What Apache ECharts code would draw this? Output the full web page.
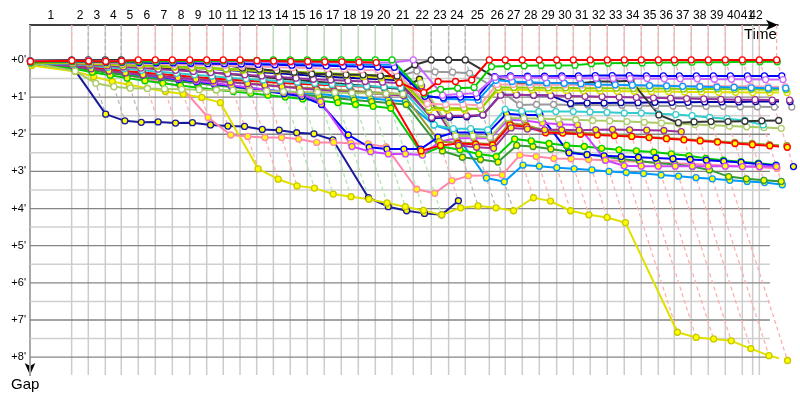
<!DOCTYPE html>
<html>
<head>
<meta charset="utf-8">
<title>Gap chart</title>
<script src="https://cdn.jsdelivr.net/npm/echarts@6/dist/echarts.min.js"></script>
<style>
  html, body { margin: 0; padding: 0; background: #fff; }
  #chart { width: 800px; height: 400px; }
</style>
</head>
<body>
<div id="chart"></div>
<script>
// leader's race time (minutes) at the end of each lap, lap 0 = start
const leaderTimes = [0, 3.50, 4.90, 6.33, 7.67, 9.10, 10.53, 11.96, 13.42, 14.85, 16.24, 17.65, 19.05, 20.45, 21.87, 23.30, 24.73, 26.16, 27.59, 29.02, 30.42, 32.21, 33.72, 35.18, 36.58, 38.60, 39.94, 41.37, 42.80, 44.26, 45.66, 47.08, 48.51, 49.94, 51.37, 52.80, 54.14, 55.57, 57.00, 58.43, 59.86, 61.29, 62.75];

// vertical grid lines (includes the extra line before the last one)
const gridTimes = [0, 3.50, 4.90, 6.33, 7.67, 9.10, 10.53, 11.96, 13.42, 14.85, 16.24, 17.65, 19.05, 20.45, 21.87, 23.30, 24.73, 26.16, 27.59, 29.02, 30.42, 32.21, 33.72, 35.18, 36.58, 38.60, 39.94, 41.37, 42.80, 44.26, 45.66, 47.08, 48.51, 49.94, 51.37, 52.80, 54.14, 55.57, 57.00, 58.43, 59.86, 60.73, 61.29];

const lapLabels = ['1','2','3','4','5','6','7','8','9','10','11','12','13','14','15','16','17','18','19','20','21','22','23','24','25','26','27','28','29','30','31','32','33','34','35','36','37','38','39','40','41','42'];

// status of each lap (1..42) for the dashed lap lines: r = racing, y = neutral, g = green
const lapFlags = ['r','y','y','y','r','r','r','r','r','r','r','r','g','g','g','g','g','g','g','g','r','y','y','y','r','r','r','r','r','r','r','r','r','r','r','r','r','r','r','r','r','r'];

const gapTicks = [0, 1, 2, 3, 4, 5, 6, 7, 8];
const halfTicks = [0.5, 1.5, 2.5, 3.5, 4.5, 5.5, 6.5, 7.5];

// gap to leader (minutes) per lap, lap 0 first
const redGaps = [0.04,0.02,0.03,0.04,0.03,0,0,0,0,0,0,0,0.02,0.03,0.04,0.04,0.05,0.05,0.06,0.07,0.62,0.88,0.58,0.58,0.54,0,0,0,0,0,0,0,0,0,0,0,0,0,0,0,0,0,0];
const greenGaps = [0.06,0.04,0.04,0.05,0.05,0.04,0.04,0.03,0.03,0.03,0.02,0.02,0.01,0,0,0,0,0,0,0,0,0.92,0.79,0.76,0.74,0.18,0.17,0.16,0.15,0.15,0.14,0.10,0.09,0.08,0.08,0.07,0.07,0.06,0.06,0.06,0.05,0.05,0.05];
const violetGaps = [0.03,0.02,0.02,0.03,0.03,0.03,0.04,0.04,0.04,0.05,0.05,0.05,0.05,0.06,0.06,0.06,0.06,0.07,0.07,0.07,0.07,0,0.95,0.92,0.90,0.47,0.46,0.47,0.48,0.48,0.49,0.49,0.50,0.50,0.50,0.51,0.51,0.51,0.52,0.52,0.52,0.53,0.53];
const blueGaps = [0.05,0.04,0.05,0.06,0.06,0.07,0.08,0.08,0.09,0.10,0.10,0.11,0.12,0.13,0.14,0.15,0.16,0.17,0.18,0.19,0.20,0.98,1.02,1.00,1.00,0.45,0.43,0.44,0.44,0.43,0.43,0.42,0.42,0.42,0.43,0.43,0.43,0.43,0.43,0.43,0.43,0.43,0.43];
const skyGaps = [0.04,0.03,0.04,0.05,0.06,0.06,0.07,0.07,0.08,0.08,0.09,0.09,0.10,0.10,0.11,0.11,0.12,0.12,0.12,0.13,0.13,0.95,1.05,1.06,1.08,0.55,0.58,0.60,0.62,0.63,0.64,0.66,0.67,0.68,0.69,0.70,0.71,0.72,0.73,0.74,0.75,0.76,0.76];
const pinkGaps = [0.05,0.06,0.07,0.08,0.09,0.10,0.11,0.12,0.13,0.14,0.15,0.17,0.18,0.20,0.21,0.22,0.24,0.25,0.27,0.28,0.30,1.18,1.20,1.20,1.22,0.66,0.66,0.67,0.67,0.67,0.68,0.68,0.68,0.69,0.69,0.69,0.70,0.70,0.70,0.71,0.71,0.72,0.72];
const blackGaps = [0.05,0.05,0.05,0.06,0.06,0.07,0.07,0.08,0.09,0.11,0.13,0.22,0.25,0.29,0.33,0.38,0.38,0.40,0.40,0.43,0.43,0.13,0,0,0,0.47,0.61,0.65,0.63,0.63,0.63,0.58,0.58,0.56,1.48,1.69,1.67,1.66,1.66,1.65,1.64,1.63];
const limeGaps = [0.07,0.08,0.09,0.10,0.12,0.14,0.16,0.18,0.20,0.22,0.24,0.26,0.28,0.30,0.32,0.34,0.36,0.38,0.40,0.42,0.45,1.28,1.30,1.30,1.32,0.74,0.74,0.75,0.75,0.75,0.76,0.76,0.76,0.77,0.77,0.77,0.78,0.78,0.78,0.79,0.79,0.80,0.80];
const yellowGaps = [0.06,0.08,0.10,0.12,0.14,0.16,0.18,0.20,0.22,0.24,0.26,0.28,0.30,0.32,0.34,0.37,0.40,0.42,0.45,0.48,0.50,1.35,1.35,1.35,1.30,0.80,0.80,0.81,0.82,0.82,0.83,0.83,0.84,0.84,0.85,0.85,0.86,0.86,0.87,0.87,0.88,0.88,0.88];
const purpleGaps = [0.07,0.10,0.13,0.16,0.19,0.22,0.25,0.28,0.31,0.34,0.37,0.40,0.43,0.46,0.49,0.52,0.54,0.56,0.58,0.60,0.62,1.55,1.50,1.50,1.48,0.95,0.94,0.95,0.96,0.97,0.98,0.99,1.00,1.01,1.02,1.03,1.04,1.05,1.06,1.07,1.07,1.08,1.08];
const darkBlueGaps = [0.06,0.08,0.10,0.12,0.14,0.16,0.18,0.20,0.22,0.24,0.27,0.30,0.33,0.36,0.39,0.42,0.45,0.48,0.50,0.52,0.55,1.57,1.54,1.53,1.48,0.94,0.94,0.95,0.96,1.17,1.16,1.16,1.15,1.15,1.14,1.14,1.14,1.13,1.13,1.13,1.12,1.12,1.12];
const grayGaps = [0.05,0.07,0.09,0.11,0.13,0.15,0.17,0.19,0.21,0.23,0.25,0.27,0.29,0.31,0.33,0.35,0.37,0.39,0.41,0.43,0.45,0.30,0.32,0.33,0.36,0.80,1.21,1.20,1.20,1.21,1.21,1.22,1.22,1.23,1.23,1.24,1.24,1.25,1.25,1.26,1.26,1.27,1.27];
const cyanGaps = [0.08,0.12,0.16,0.20,0.24,0.28,0.32,0.36,0.40,0.44,0.48,0.51,0.54,0.57,0.60,0.63,0.66,0.69,0.71,0.73,0.75,1.75,1.85,1.85,1.88,1.33,1.38,1.39,1.39,1.39,1.40,1.41,1.43,1.43,1.45,1.47,1.50,1.55,1.58,1.63,1.75];
const oliveGaps = [0.08,0.30,0.63,0.72,0.76,0.77,0.78,0.79,0.80,0.81,0.82,0.83,0.84,0.85,0.86,0.87,0.88,0.89,0.90,0.91,0.92,0.62,2.05,2.05,2.08,1.56,1.57,1.58,1.60,1.61,1.63,1.64,1.66,1.68,1.70,1.72,1.74,1.76,1.78,1.80,1.82,1.84];

// second class (yellow markers)
const blackBGaps = [0.02,0,0,0,0,0.14,0.20,0.25,0.30,0.34,0.38,0.42,0.46,0.50,0.54,0.58,0.62,0.66,0.70,0.74,0.78,0.52];
const redBGaps = [0.06,0.15,0.20,0.25,0.30,0.34,0.38,0.42,0.46,0.50,0.53,0.56,0.59,0.62,0.64,0.66,0.68,0.70,0.72,0.75,2.45,2.30,2.25,2.27,2.29,1.75,1.80,1.96,1.97,2.00,2.02,2.04,2.06,2.09,2.12,2.15,2.18,2.21,2.25,2.28,2.31,2.35];
const purpleBGaps = [0.07,0.18,0.24,0.30,0.35,0.40,0.44,0.48,0.52,0.56,0.60,0.64,0.68,0.72,0.76,0.80,0.84,0.87,0.90,0.93,0.96,0.70,2.30,2.35,2.38,1.83,1.86,1.88,1.88,1.89,1.88,1.87,1.88,1.89,1.90,1.93];
const greenBGaps = [0.08,0.24,0.33,0.41,0.49,0.56,0.63,0.69,0.75,0.80,0.85,0.90,0.95,1.00,1.05,1.10,1.15,1.20,1.25,1.30,2.55,2.33,2.42,2.53,2.60,2.13,2.18,2.25,2.30,2.33,2.38,2.42,2.45,2.48,2.53,2.58,2.65,2.70,2.74,2.78,2.83];
const darkGreenBGaps = [0.07,0.20,0.28,0.35,0.41,0.47,0.53,0.58,0.63,0.68,0.73,0.78,0.83,0.88,0.93,0.98,1.03,1.08,1.12,1.16,1.20,2.45,2.62,2.68,2.75,2.30,2.33,2.40,2.47,2.54,2.60,2.67,2.72,2.78,2.81,2.87,2.96,3.14,3.20,3.24,3.27];
const skyBGaps = [0.06,0.20,0.27,0.33,0.39,0.45,0.50,0.55,0.60,0.65,0.70,0.75,0.80,0.84,0.88,0.92,0.96,1.00,1.04,1.08,1.12,1.75,1.93,3.18,3.28,2.83,2.86,2.90,2.93,2.96,3.00,3.03,3.06,3.10,3.13,3.17,3.20,3.24,3.27,3.30,3.36];
const pinkBGaps = [0.05,0.18,0.26,0.33,0.40,0.50,0.60,0.72,1.55,2.02,2.06,2.09,2.09,2.13,2.22,2.22,2.24,2.26,2.34,3.48,3.59,3.25,3.12,3.11,3.10,2.56,2.60,2.65,2.66,2.68,2.70,2.72,2.74,2.76,2.78,2.80,2.82,2.84,2.86,2.89,2.92];
const violetBGaps = [0.04,0.15,0.21,0.27,0.33,0.39,0.45,0.50,0.56,0.62,0.68,0.74,0.80,0.86,0.92,1.12,2.33,2.47,2.53,2.53,2.56,2.20,2.11,2.11,2.11,1.61,1.63,1.70,1.73,1.75,2.70,2.85,2.86,2.86,2.86,2.86,2.86,2.86,2.87,2.87,2.87];
const blueBGaps = [0.05,0.16,0.22,0.28,0.34,0.40,0.46,0.52,0.58,0.64,0.70,0.77,0.84,0.91,0.98,1.20,2.02,2.35,2.40,2.40,2.40,2.08,1.95,1.95,1.95,1.45,1.48,1.48,2.50,2.55,2.58,2.60,2.62,2.64,2.66,2.68,2.70,2.73,2.76,2.80,2.84,2.87];
const yellowBGaps = [0.15,0.31,0.45,0.58,0.67,0.76,0.85,0.92,1.01,1.15,2.93,3.21,3.39,3.45,3.61,3.68,3.75,3.85,3.95,4.05,4.17,3.98,3.93,3.98,4.06,3.71,3.80,4.06,4.17,4.24,4.38,7.33,7.47,7.51,7.56,7.77,7.96,8.09];
const navyBGaps = [0.10,0.28,1.46,1.64,1.68,1.67,1.70,1.69,1.75,1.78,1.79,1.87,1.89,1.96,1.99,2.15,3.71,3.95,4.06,4.13,4.17,3.79];
const oliveBGaps = [0.07,0.17,0.23,0.29,0.34,0.39,0.43,0.47,0.51,0.55,0.59,0.63,0.67,0.71,0.74,0.77,0.80,0.83,0.86,0.89,0.92,2.20,2.22,2.24,2.26,1.70,1.76,1.90,1.93,1.96,1.99,2.02,2.05,2.08,2.10,2.13,2.16,2.19,2.22,2.25,2.28,2.31];

const WHITE = '#ffffff';
const YELLOW = '#ffff00';

// drawing order: second class first, first class on top
const cars = [
  { gaps: navyBGaps, color: '#1a1a9c', fill: YELLOW },
  { gaps: yellowBGaps, color: '#e0e000', border: '#c8c800', fill: YELLOW },
  { gaps: pinkBGaps, color: '#ff88aa', fill: YELLOW },
  { gaps: skyBGaps, color: '#0099ff', fill: YELLOW },
  { gaps: darkGreenBGaps, color: '#339933', fill: YELLOW },
  { gaps: greenBGaps, color: '#00cc00', fill: YELLOW },
  { gaps: blueBGaps, color: '#0000ff', fill: YELLOW },
  { gaps: violetBGaps, color: '#cc44ff', fill: YELLOW },
  { gaps: oliveBGaps, color: '#999933', fill: YELLOW },
  { gaps: redBGaps, color: '#ff0000', fill: YELLOW },
  { gaps: purpleBGaps, color: '#993399', fill: YELLOW },
  { gaps: blackBGaps, color: '#333333', fill: YELLOW },
  { gaps: oliveGaps, color: '#aacc66', fill: WHITE },
  { gaps: cyanGaps, color: '#33cccc', fill: WHITE },
  { gaps: grayGaps, color: '#999999', fill: WHITE },
  { gaps: darkBlueGaps, color: '#0000aa', fill: WHITE },
  { gaps: purpleGaps, color: '#993399', fill: WHITE },
  { gaps: yellowGaps, color: '#dddd00', fill: WHITE },
  { gaps: limeGaps, color: '#88cc00', fill: WHITE },
  { gaps: blackGaps, color: '#333333', fill: WHITE },
  { gaps: pinkGaps, color: '#ffa0b4', fill: WHITE },
  { gaps: skyGaps, color: '#0099ff', fill: WHITE },
  { gaps: blueGaps, color: '#0000ff', fill: WHITE },
  { gaps: violetGaps, color: '#cc66ff', fill: WHITE },
  { gaps: greenGaps, color: '#00cc00', fill: WHITE },
  { gaps: redGaps, color: '#ff0000', fill: WHITE }
];

const X_MAX = 62.86;
const Y_MIN = -0.94;
const Y_MAX = 8.48;
const H_END = 62.18;
const flagColors = { r: '#ffb0b0', y: '#b8b8b8', g: '#b0e6b0' };

const labelPos = lapLabels.map((_, i) => (gridTimes[i] + gridTimes[i + 1]) / 2);
// an empty label at the axis end keeps echarts from dropping "41"/"42" as min/max overlap
const labelValues = labelPos.concat([X_MAX]);

// background grid
const gridData = [];
halfTicks.forEach(v => gridData.push({ coords: [[0, v], [H_END, v]], lineStyle: { color: '#d0d0d0', width: 1.5 } }));
gridTimes.forEach(t => gridData.push({ coords: [[t, Y_MIN], [t, Y_MAX]], lineStyle: { color: '#cccccc', width: 1.5 } }));
gapTicks.forEach(v => gridData.push({ coords: [[0, v], [H_END, v]], lineStyle: { color: '#858585', width: 1.3 } }));

// dashed lap lines: where every car crossed the line on that lap
const dashData = lapFlags.map((f, i) => {
  const k = i + 1;
  let gmax = 0;
  cars.forEach(c => { if (c.gaps.length > k && c.gaps[k] > gmax) gmax = c.gaps[k]; });
  const t = leaderTimes[k];
  return {
    coords: [[t, Y_MIN], [t, 0], [t + gmax, gmax]],
    lineStyle: { color: flagColors[f], width: 1.3, type: [4, 3] }
  };
});

const series = [
  {
    type: 'lines', coordinateSystem: 'cartesian2d', polyline: true, silent: true,
    clip: false, z: 1, lineStyle: { opacity: 1 }, data: gridData
  },
  {
    type: 'lines', coordinateSystem: 'cartesian2d', polyline: true, silent: true,
    clip: false, z: 2, lineStyle: { opacity: 1 }, data: dashData
  }
];

cars.forEach(c => {
  series.push({
    type: 'line',
    data: c.gaps.map((g, k) => [leaderTimes[k] + g, g]),
    symbol: 'circle',
    symbolSize: 6,
    clip: false,
    z: 3,
    silent: true,
    lineStyle: { color: c.color, width: 2 },
    itemStyle: { color: c.fill, borderColor: c.border || c.color, borderWidth: 1.3 }
  });
});

const chart = echarts.init(document.getElementById('chart'));
chart.setOption({
  animation: false,
  backgroundColor: '#ffffff',
  textStyle: { fontFamily: 'Liberation Sans, DejaVu Sans, sans-serif' },
  grid: { left: 30, right: 22, top: 25, bottom: 25 },
  xAxis: {
    type: 'value',
    position: 'top',
    min: 0,
    max: X_MAX,
    axisLine: {
      show: true, onZero: false,
      symbol: ['none', 'arrow'], symbolSize: [8, 12],
      lineStyle: { color: '#000', width: 1.5 }
    },
    axisTick: { show: false },
    splitLine: { show: false },
    axisLabel: {
      customValues: labelValues,
      hideOverlap: false,
      showMinLabel: true,
      showMaxLabel: true,
      color: '#000',
      fontSize: 12,
      margin: 3,
      formatter: v => {
        if (v >= X_MAX) return '';
        let best = 0;
        labelPos.forEach((p, i) => { if (Math.abs(p - v) < Math.abs(labelPos[best] - v)) best = i; });
        return lapLabels[best];
      }
    }
  },
  yAxis: {
    type: 'value',
    inverse: true,
    min: Y_MIN,
    max: Y_MAX,
    axisLine: {
      show: true, onZero: false,
      symbol: ['arrow', 'none'], symbolSize: [8, 12],
      lineStyle: { color: '#000', width: 1.5 }
    },
    axisTick: { show: false },
    splitLine: { show: false },
    axisLabel: {
      customValues: gapTicks,
      color: '#000',
      fontSize: 11,
      margin: 4,
      formatter: v => '+' + v + "'"
    }
  },
  graphic: [
    { type: 'text', left: 744, top: 27, style: { text: 'Time', fontSize: 15, fill: '#000', fontFamily: 'Liberation Sans' } },
    { type: 'text', left: 11, top: 377, style: { text: 'Gap', fontSize: 15, fill: '#000', fontFamily: 'Liberation Sans' } }
  ],
  series: series
});
</script>
</body>
</html>
